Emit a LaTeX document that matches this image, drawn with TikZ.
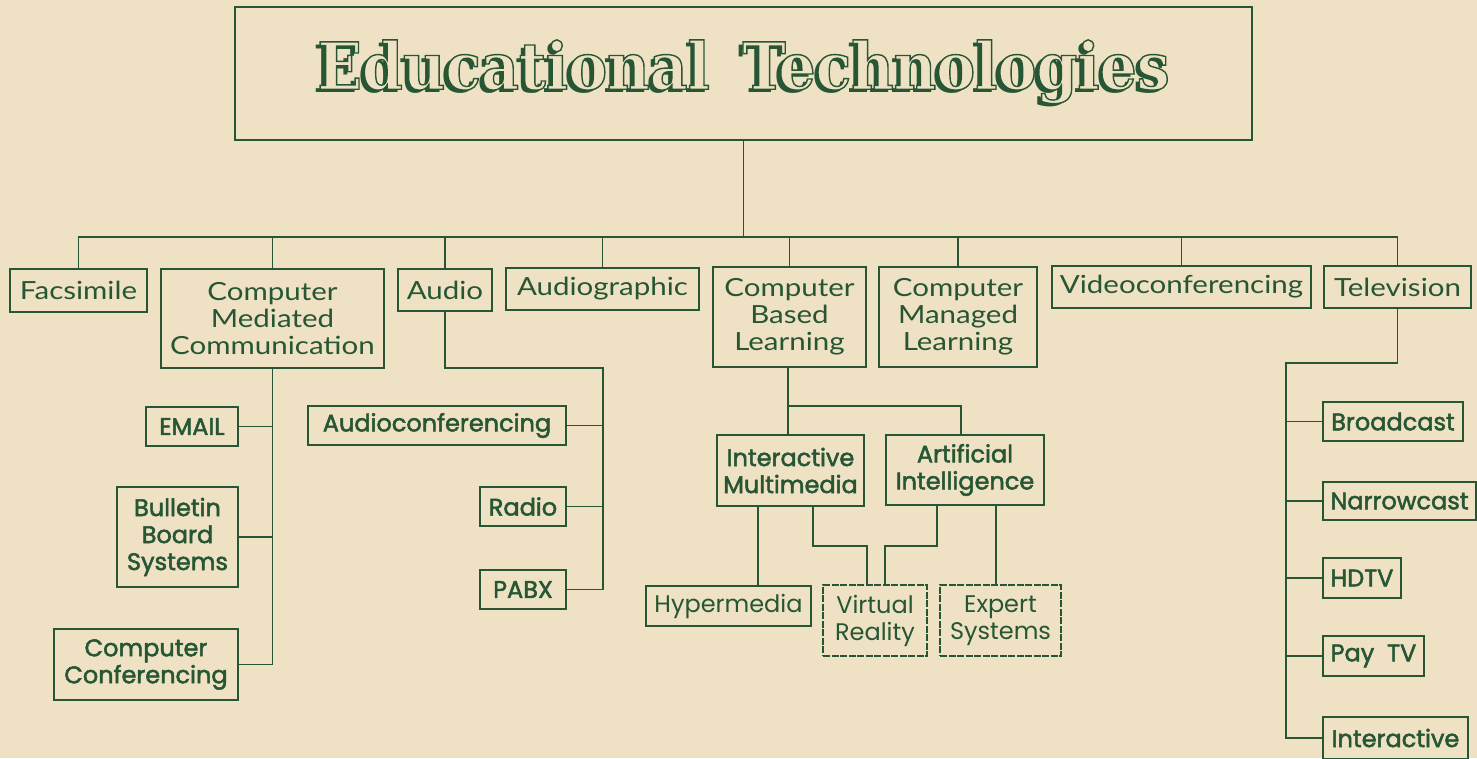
\documentclass[tikz,border=0pt]{standalone}
\usepackage{fontspec}
\setmainfont{Lato}[FakeStretch=1.18]
\newfontfamily\geofont{Poppins}
\newfontfamily\titlefont{DejaVu Serif Condensed}
\usepackage{tikz}
\usetikzlibrary{calc}
\definecolor{ink}{RGB}{38,86,52}
\definecolor{paper}{RGB}{239,226,196}
\newcommand\outlinetext[1]{\special{pdf:literal direct 2 Tr 1.4 w 0.149 0.337 0.204 RG}#1\special{pdf:literal direct 0 Tr}}
\newcommand\titlewords{Educational\hspace{0.5em}Technologies}

\begin{document}
\begin{tikzpicture}[x=1pt,y=-1pt,
  topbox/.style={draw=ink,line width=2.2pt,inner sep=0pt,align=center,text=ink,font=\fontsize{25}{27}\selectfont},
  thinbox/.style={draw=ink,line width=1.1pt,inner sep=0pt,align=center,text=ink,font=\geofont\fontsize{24}{27}\selectfont},
  subbox/.style={thinbox,line width=1.6pt,
    execute at begin node=\special{pdf:literal direct 2 Tr 0.5 w},
    execute at end node=\special{pdf:literal direct 0 Tr}},
  link/.style={draw=ink,line width=1.7pt}]
\fill[paper] (0,0) rectangle (1477,758);
\clip (0,0) rectangle (1477,758);
% title
\node[draw=ink,line width=2.4pt,minimum width=1017pt,minimum height=133pt] (title) at (743.5,73.5) {};
\node[text=paper] (titletext) at (title.center) {\titlefont\bfseries\fontsize{65}{65}\selectfont
  \makebox[0pt][l]{\kern-3.5pt\raisebox{-3.5pt}{\color{ink}\titlewords}}\outlinetext{\titlewords}};
% first row
\node[topbox,minimum width=137pt,minimum height=43pt] (fax) at (78.5,290.5) {Facsimile};
\node[topbox,minimum width=223pt,minimum height=99pt] (cmc) at (272.5,318.5) {Computer\\Mediated\\Communication};
\node[topbox,minimum width=94pt,minimum height=42pt] (audio) at (445,290) {Audio};
\node[topbox,minimum width=193pt,minimum height=42pt] (agraph) at (602.5,289) {Audiographic};
\node[topbox,minimum width=153pt,minimum height=100pt] (cbl) at (789.5,317) {Computer\\Based\\Learning};
\node[topbox,minimum width=158pt,minimum height=100pt] (cml) at (958,317) {Computer\\Managed\\Learning};
\node[topbox,minimum width=259pt,minimum height=42pt] (vconf) at (1181.5,287) {Videoconferencing};
\node[topbox,minimum width=147pt,minimum height=42pt] (tv) at (1397.5,287) {Television};
% second row
\node[subbox,minimum width=92pt,minimum height=39pt] (email) at (192,426.5) {EMAIL};
\node[subbox,minimum width=121pt,minimum height=100pt] (bbs) at (177.5,537) {Bulletin\\Board\\Systems};
\node[subbox,minimum width=184pt,minimum height=71pt] (cc) at (146,664.5) {Computer\\Conferencing};
\node[subbox,minimum width=258pt,minimum height=39pt] (aconf) at (437,425.5) {Audioconferencing};
\node[subbox,minimum width=86pt,minimum height=39pt] (radio) at (523,506.5) {Radio};
\node[subbox,minimum width=86pt,minimum height=39pt] (pabx) at (523,589.5) {PABX};
\node[subbox,minimum width=147pt,minimum height=71pt] (im) at (790.5,470.5) {Interactive\\Multimedia};
\node[subbox,minimum width=158pt,minimum height=70pt] (ai) at (965,470) {Artificial\\Intelligence};
\node[thinbox,minimum width=165pt,minimum height=40pt] (hyper) at (728.5,606) {Hypermedia};
\node[thinbox,dash pattern=on 7pt off 1.5pt,minimum width=104pt,minimum height=71pt] (vr) at (875,620.5) {Virtual\\Reality};
\node[thinbox,dash pattern=on 7pt off 1.5pt,minimum width=121pt,minimum height=71pt] (es) at (1000.5,620.5) {Expert\\Systems};
\node[subbox,minimum width=140pt,minimum height=39pt] (bcast) at (1393,421.5) {Broadcast};
\node[subbox,minimum width=153pt,minimum height=38pt] (ncast) at (1399.5,501) {Narrowcast};
\node[subbox,minimum width=78pt,minimum height=40pt] (hdtv) at (1362,578) {HDTV};
\node[subbox,minimum width=101pt,minimum height=40pt] (paytv) at (1373.5,656) {Pay\ \ TV};
\node[subbox,minimum width=145pt,minimum height=42pt] (inter) at (1395.5,738) {Interactive};
% links
\coordinate (bus) at (743.5,237);
\draw[link] (title.south) -- (bus);
\draw[link] (fax.north) -- (fax.north |- bus) -- (tv.north |- bus) -- (tv.north);
\foreach \n in {cmc,audio,agraph,cbl,cml,vconf}
  \draw[link] (\n.north) -- (\n.north |- bus);
\draw[link] (cmc.south) |- (cc.east);
\foreach \n in {email,bbs}
  \draw[link] (\n.east) -- (\n.east -| cmc.south);
\coordinate (aknee) at (603,368);
\draw[link] (audio.south) |- (aknee) |- (pabx.east);
\foreach \n in {aconf,radio}
  \draw[link] (\n.east) -- (\n.east -| aknee);
\coordinate (cblfork) at ($(cbl.south)+(-1.5,38)$);
\draw[link] (cbl.south -| cblfork) -- (cblfork |- im.north);
\draw[link] (cblfork) -| ($(ai.north)+(-4,0)$);
\coordinate (imL) at ($(im.south)+(-32.5,0)$);
\coordinate (imR) at ($(im.south)+(22.5,0)$);
\coordinate (aiL) at ($(ai.south)+(-28,0)$);
\coordinate (aiR) at ($(ai.south)+(31,0)$);
\coordinate (vrL) at ($(vr.north)+(-8,0)$);
\coordinate (vrR) at ($(vr.north)+(10,0)$);
\draw[link] (imL) -- (imL |- hyper.north);
\draw[link] (imR) -- ++(0,39) -| (vrL);
\draw[link] (aiL) -- ++(0,40) -| (vrR);
\draw[link] (aiR) -- (aiR |- es.north);
\coordinate (tvknee) at (1286,363);
\draw[link] (tv.south) |- (tvknee) |- (inter.west);
\foreach \n in {bcast,ncast,hdtv,paytv}
  \draw[link] (\n.west) -- (\n.west -| tvknee);
\end{tikzpicture}
\end{document}
